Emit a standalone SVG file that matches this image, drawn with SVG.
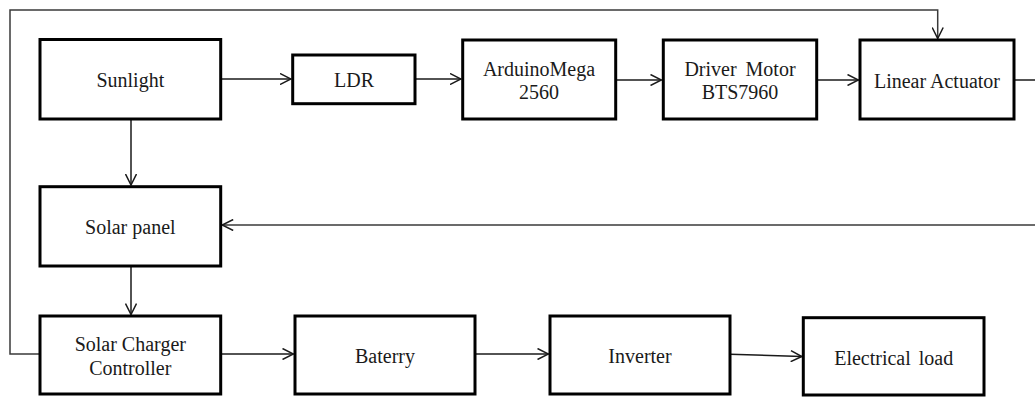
<svg xmlns="http://www.w3.org/2000/svg" width="1035" height="397" viewBox="0 0 1035 397">
<defs>
<marker id="ah" viewBox="0 0 12 12" refX="11.5" refY="6" markerWidth="12" markerHeight="12" markerUnits="userSpaceOnUse" orient="auto">
<path d="M0.5,0.5 L11.5,6 L0.5,11.5" fill="none" stroke="#1a1a1a" stroke-width="1.5"/>
</marker>
</defs>
<style>
.box{fill:#fff;stroke:#000;stroke-width:3}
.lbl{font-family:"Liberation Serif","Times New Roman",serif;font-size:20px;fill:#1a1a1a;text-anchor:middle}
.c{fill:none;stroke:#1a1a1a;stroke-width:1.5}
.fb{fill:none;stroke:#3a3a3a;stroke-width:1.5}
</style>
<rect width="1035" height="397" fill="#fff"/>
<g id="connectors">
<path class="c" d="M220.7,79 H291" marker-end="url(#ah)"/>
<path class="c" d="M415,79 H461" marker-end="url(#ah)"/>
<path class="c" d="M615.7,80 H661.5" marker-end="url(#ah)"/>
<path class="c" d="M816.7,80 H858.5" marker-end="url(#ah)"/>
<path class="c" d="M131,119 V185" marker-end="url(#ah)"/>
<path class="c" d="M131,266 V314.5" marker-end="url(#ah)"/>
<path class="c" d="M220.7,354 H293.5" marker-end="url(#ah)"/>
<path class="c" d="M475,354 H548.5" marker-end="url(#ah)"/>
<path class="c" d="M730,354.3 L801.8,356.5" marker-end="url(#ah)"/>
<path class="c" d="M1014,80 H1035"/>
<path class="fb" d="M1035,225 H222.2" marker-end="url(#ah)"/>
<path class="fb" d="M40,354 H10 V10 H937.7 V38.5" marker-end="url(#ah)"/>
</g>
<g id="sunlight">
<rect class="box" x="40" y="39.5" width="180.7" height="79.5"/>
<text class="lbl" x="130.3" y="87">Sunlight</text>
</g>
<g id="ldr">
<rect class="box" x="292.7" y="55" width="122.3" height="48.7"/>
<text class="lbl" x="354" y="87">LDR</text>
</g>
<g id="arduino">
<rect class="box" x="462.7" y="40" width="153" height="79"/>
<text class="lbl" x="539" y="76">ArduinoMega</text>
<text class="lbl" x="539" y="99">2560</text>
</g>
<g id="driver">
<rect class="box" x="663.3" y="40" width="153.4" height="79"/>
<text class="lbl" x="740" y="76" word-spacing="4">Driver Motor</text>
<text class="lbl" x="740" y="99">BTS7960</text>
</g>
<g id="actuator">
<rect class="box" x="860" y="40" width="154" height="79"/>
<text class="lbl" x="937" y="88">Linear Actuator</text>
</g>
<g id="solar-panel">
<rect class="box" x="40" y="186.7" width="180.7" height="79.3"/>
<text class="lbl" x="130.3" y="234">Solar panel</text>
</g>
<g id="charger">
<rect class="box" x="40" y="316" width="180.7" height="78"/>
<text class="lbl" x="130.3" y="351">Solar Charger</text>
<text class="lbl" x="130.3" y="375">Controller</text>
</g>
<g id="battery">
<rect class="box" x="295" y="316" width="180" height="78"/>
<text class="lbl" x="385" y="363">Baterry</text>
</g>
<g id="inverter">
<rect class="box" x="550" y="316" width="180" height="78"/>
<text class="lbl" x="640" y="363">Inverter</text>
</g>
<g id="load">
<rect class="box" x="803.3" y="317.7" width="180.7" height="77.3"/>
<text class="lbl" x="893.7" y="365" word-spacing="3">Electrical load</text>
</g>
</svg>
